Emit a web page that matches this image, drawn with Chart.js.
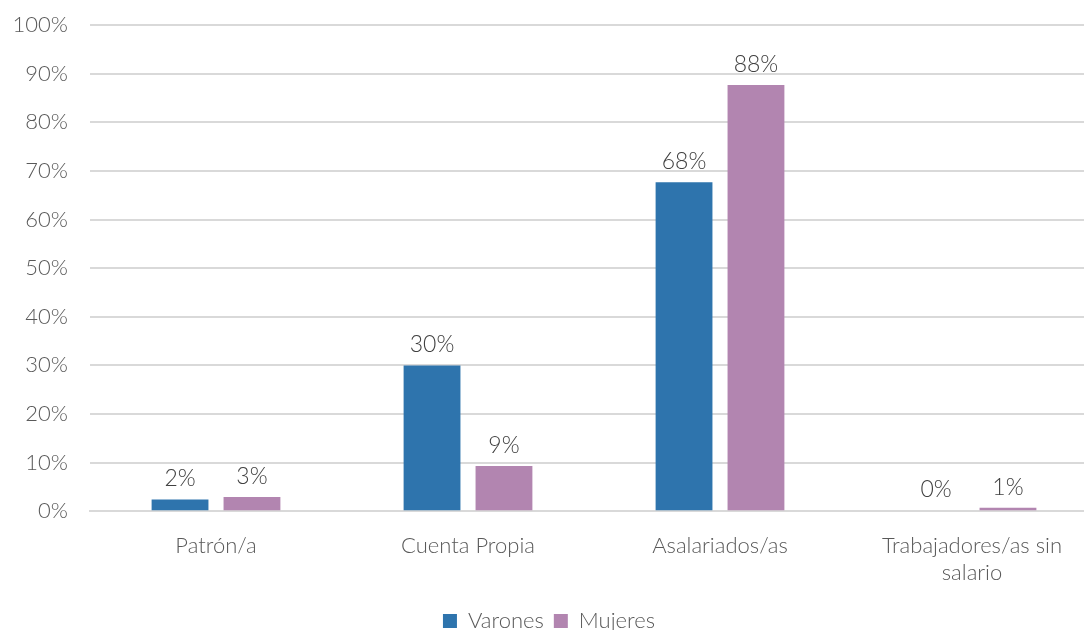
<!DOCTYPE html>
<html><head><meta charset="utf-8">
<script src="https://cdn.jsdelivr.net/npm/chart.js@4"></script>
<style>html,body{margin:0;padding:0;background:#fff;overflow:hidden;width:1084px;height:630px;}#w{width:1098px;height:652px;margin-top:-10px;}</style>
</head><body><div id="w"><canvas id="c"></canvas></div>
<script>
const categories = ["Patrón/a", "Cuenta Propia", "Asalariados/as", ["Trabajadores/as sin", "salario"]];
const varones = [2.4, 30.0, 67.7, 0.2];
const mujeres = [2.9, 9.3, 87.7, 0.7];
const varonesLabels = ["2%", "30%", "68%", "0%"];
const mujeresLabels = ["3%", "9%", "88%", "1%"];
const seriesNames = ["Varones", "Mujeres"];
const FONT = "Lato, sans-serif";
const TXT = "#595959";

const labelPlugin = {
  id: 'vlabels',
  afterDatasetsDraw(chart) {
    const ctx = chart.ctx;
    const lbls = [varonesLabels, mujeresLabels];
    ctx.save();
    ctx.font = "300 23px " + FONT;
    ctx.fillStyle = "#404040";
    ctx.textAlign = "center";
    ctx.textBaseline = "bottom";
    chart.data.datasets.forEach((ds, i) => {
      chart.getDatasetMeta(i).data.forEach((bar, j) => {
        ctx.fillText(lbls[i][j], bar.x, bar.y - 9);
      });
    });
    ctx.restore();
  }
};

new Chart(document.getElementById('c'), {
  type: 'bar',
  data: {
    labels: categories,
    datasets: [
      {label: seriesNames[0], data: varones, backgroundColor: '#2E74AD', borderWidth: 0, categoryPercentage: 0.571, barPercentage: 0.79},
      {label: seriesNames[1], data: mujeres, backgroundColor: '#B285B0', borderWidth: 0, categoryPercentage: 0.571, barPercentage: 0.79}
    ]
  },
  options: {
    responsive: true,
    maintainAspectRatio: false,
    animation: false,
    layout: {padding: {left: 0, right: 0, top: 2, bottom: 0}},
    plugins: {
      legend: {
        position: 'bottom',
        labels: {font: {family: FONT, size: 22, weight: 300}, color: TXT, boxWidth: 14, boxHeight: 14, padding: 10}
      },
      tooltip: {enabled: false}
    },
    scales: {
      y: {
        min: 0, max: 100,
        afterFit(scale) { scale.width = 90; },
        ticks: {stepSize: 10, callback: v => v + '%', font: {family: FONT, size: 22, weight: 300}, color: TXT, padding: 22},
        grid: {color: '#D9D9D9', lineWidth: 2, drawTicks: false},
        border: {display: false}
      },
      x: {
        ticks: {font: {family: FONT, size: 22, weight: 300}, color: TXT, padding: 14, maxRotation: 0},
        grid: {display: false},
        border: {color: '#D9D9D9', width: 2}
      }
    }
  },
  plugins: [labelPlugin]
});
</script>
</body></html>
